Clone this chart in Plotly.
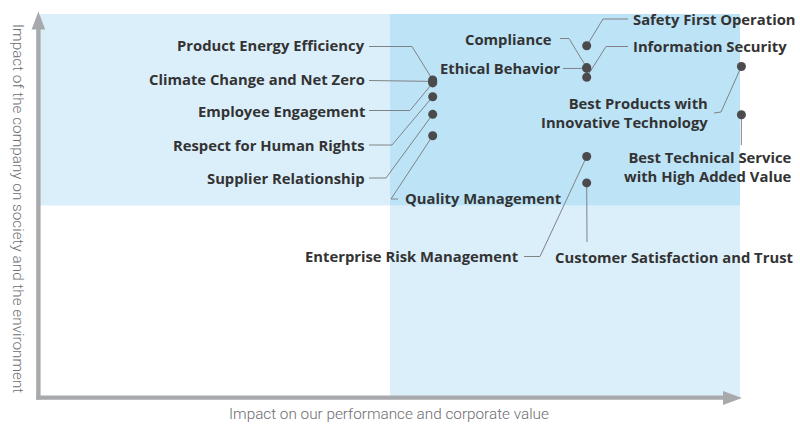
import plotly.graph_objects as go

# ---------------- data ----------------
topics = [
    "Product Energy Efficiency",
    "Climate Change and Net Zero",
    "Employee Engagement",
    "Respect for Human Rights",
    "Supplier Relationship",
    "Quality Management",
    "Safety First Operation",
    "Compliance",
    "Ethical Behavior",
    "Information Security",
    "Best Products with<br>Innovative Technology",
    "Best Technical Service<br>with High Added Value",
    "Enterprise Risk Management",
    "Customer Satisfaction and Trust",
]
# impact on our performance and corporate value (x)
business_impact = [5.61, 5.61, 5.61, 5.61, 5.61, 5.61,
                   7.81, 7.81, 7.81, 7.81, 10.02, 10.02, 7.81, 7.81]
# impact of the company on society and the environment (y)
society_impact = [8.28, 8.24, 8.20, 7.84, 7.38, 6.82,
                  9.17, 8.60, 8.58, 8.35, 8.63, 7.37, 6.28, 5.59]

axis_max = 10
threshold = 5
x_title = "Impact on our performance and corporate value"
y_title = "Impact of the company on society and the environment"

# ---------------- layout helpers (pixel -> data) ----------------
W, H = 800, 430
PX0, PX1 = 40, 740      # pixel span of 0..axis_max on x
PY0, PY1 = 397, 14      # pixel span of 0..axis_max on y
sx = (PX1 - PX0) / axis_max
sy = (PY0 - PY1) / axis_max


def X(px):
    return (px - PX0) / sx


def Y(py):
    return (PY0 - py) / sy


# label placement: (x px, y px, anchor, leader points in px from label towards dot)
label_pos = [
    (366, 45, "right", [(369, 46.5), (412, 46.5)]),
    (366, 79, "right", [(369, 80.5)]),
    (366, 111, "right", [(369, 110.5), (410, 110.5)]),
    (366, 145, "right", [(369, 145), (392, 145)]),
    (366, 178, "right", [(369, 178), (386, 178)]),
    (404, 198, "left", [(398, 199), (391, 199)]),
    (632, 19, "left", [(628, 19), (603, 19)]),
    (553, 39, "right", [(560, 38.5), (569, 38.5)]),
    (561, 68, "right", [(563, 68.5)]),
    (632, 46, "left", [(628, 46.5), (606, 46.5)]),
    (709, 112.5, "right", [(714, 113), (721, 112)]),
    (793, 166.5, "right", [(741.3, 145)]),
    (519, 256, "right", [(524, 256.5), (540, 256.5)]),
    (554, 257, "left", [(587, 242)]),
]

LIGHT = "#dbeffb"
DARK = "#bde3f7"
AXIS = "#a7a9ac"
DOT = "#4b4b4d"
LEADER = "#808285"
TEXT = "#333333"
LABEL_FONT = dict(family="Open Sans", size=14.8, color=TEXT, weight=700)
TITLE_FONT = dict(family="Roboto", size=15.3, color="#6d6e71", weight=300)

fig = go.Figure()

# leader lines
lx, ly = [], []
for (px, py, anchor, pts), bx, by in zip(label_pos, business_impact, society_impact):
    for (qx, qy) in pts:
        lx.append(X(qx))
        ly.append(Y(qy))
    lx.append(bx)
    ly.append(by)
    lx.append(None)
    ly.append(None)

fig.add_trace(go.Scatter(x=lx, y=ly, mode="lines",
                         line=dict(color=LEADER, width=1),
                         hoverinfo="skip", cliponaxis=False))

# dots
fig.add_trace(go.Scatter(x=business_impact, y=society_impact, mode="markers",
                         marker=dict(color=DOT, size=9),
                         text=[t.replace("<br>", " ") for t in topics],
                         hoverinfo="text", cliponaxis=False))

# labels
annotations = []
for t, (px, py, anchor, pts) in zip(topics, label_pos):
    annotations.append(dict(x=X(px), y=Y(py), xref="x", yref="y", text=t,
                            showarrow=False, xanchor=anchor, yanchor="middle",
                            align=anchor, font=LABEL_FONT, borderpad=0))

annotations.append(dict(x=X(389), y=Y(414), xref="x", yref="y", text=x_title,
                        showarrow=False, xanchor="center", yanchor="middle",
                        font=TITLE_FONT))
annotations.append(dict(x=X(18), y=Y(208), xref="x", yref="y", text=y_title,
                        showarrow=False, xanchor="center", yanchor="middle", textangle=90,
                        font=TITLE_FONT))

shapes = [
    # quadrant shading
    dict(type="rect", xref="x", yref="y", x0=0, x1=axis_max, y0=threshold, y1=axis_max,
         fillcolor=LIGHT, line=dict(width=0), layer="below"),
    dict(type="rect", xref="x", yref="y", x0=threshold, x1=axis_max, y0=0, y1=threshold,
         fillcolor=LIGHT, line=dict(width=0), layer="below"),
    dict(type="rect", xref="x", yref="y", x0=threshold, x1=axis_max, y0=threshold, y1=axis_max,
         fillcolor=DARK, line=dict(width=0), layer="below"),
    # axes with arrows
    dict(type="line", xref="x", yref="y", x0=X(38.4), x1=X(38.4), y0=Y(399.6), y1=Y(29),
         line=dict(color=AXIS, width=4.4), layer="above"),
    dict(type="line", xref="x", yref="y", x0=X(36.2), x1=X(724), y0=Y(397.6), y1=Y(397.6),
         line=dict(color=AXIS, width=4.4), layer="above"),
    dict(type="path", xref="x", yref="y",
         path=f"M {X(31.6)},{Y(29.5)} L {X(38.4)},{Y(11.5)} L {X(45.2)},{Y(29.5)} Z",
         fillcolor=AXIS, line=dict(width=0), layer="above"),
    dict(type="path", xref="x", yref="y",
         path=f"M {X(723)},{Y(391)} L {X(742)},{Y(398)} L {X(723)},{Y(405)} Z",
         fillcolor=AXIS, line=dict(width=0), layer="above"),
]

fig.update_layout(
    width=W, height=H,
    margin=dict(l=0, r=0, t=0, b=0, pad=0),
    paper_bgcolor="white", plot_bgcolor="white",
    showlegend=False,
    xaxis=dict(range=[X(0), X(W)], visible=False, fixedrange=True),
    yaxis=dict(range=[Y(H), Y(0)], visible=False, fixedrange=True),
    annotations=annotations,
    shapes=shapes,
)

fig.write_html("out.html", config={"displayModeBar": False},
               post_script="document.body.style.margin='0';document.body.style.overflow='hidden';")
